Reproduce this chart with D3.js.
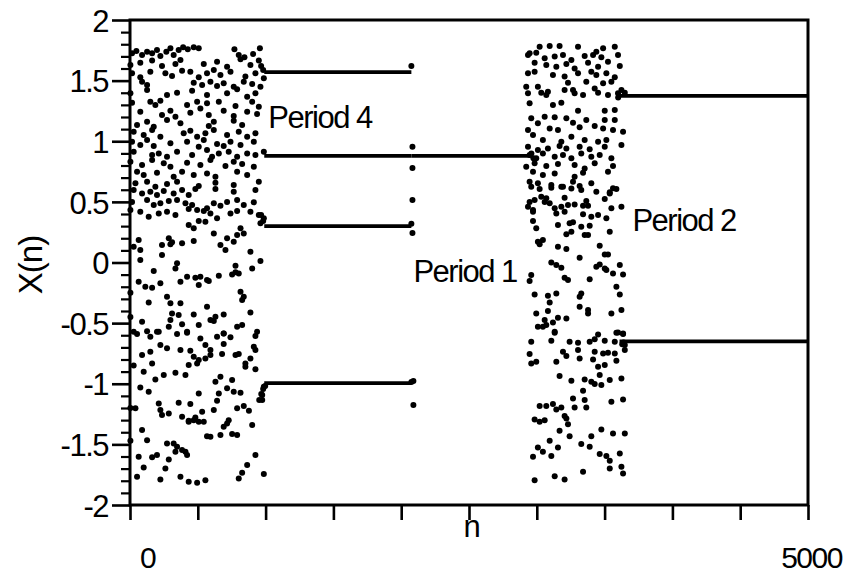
<!DOCTYPE html>
<html><head><meta charset="utf-8">
<script src="https://cdn.jsdelivr.net/npm/d3@7/dist/d3.min.js"></script>
<style>
body{margin:0;background:#fff}
svg{display:block}
text{font-family:"Liberation Sans",Arial,sans-serif;fill:#000}
</style>
</head><body>
<svg id="chart" width="848" height="577"></svg>
<script>
// ---------- data ----------
const xTicks = [0,500,1000,1500,2000,2500,3000,3500,4000,4500,5000];
const xTickLabels = ["0","","","","","","","","","","5000"];
const yMajorTicks = [-2,-1.5,-1,-0.5,0,0.5,1,1.5,2];
const yTickLabels = ["-2","-1.5","-1","-0.5","0","0.5","1","1.5","2"];
const yMinorTicks = [-1.9,-1.8,-1.7,-1.6,-1.4,-1.3,-1.2,-1.1,-0.9,-0.8,-0.7,-0.6,-0.4,-0.3,-0.2,-0.1,
  0.1,0.2,0.3,0.4,0.6,0.7,0.8,0.9,1.1,1.2,1.3,1.4,1.6,1.7,1.8,1.9];

// chaotic regime 1 (n ~ 0..990): [n, X(n)]
const chaosA = [
[15,1.725],[47,1.744],[89,1.711],[126,1.739],[163,1.725],[199,1.752],[224,1.703],[268,1.739],[298,1.766],[322,1.711],[359,1.752],[392,1.775],[426,1.758],[470,1.775],[507,1.766],[770,1.758],[802,1.711],[844,1.692],[908,1.72],[958,1.766],
[3,1.629],[76,1.648],[163,1.665],[236,1.62],[335,1.637],[372,1.67],[544,1.637],[642,1.656],[716,1.615],[815,1.676],[888,1.629],[950,1.665],
[15,1.56],[76,1.527],[150,1.574],[261,1.56],[310,1.538],[384,1.582],[445,1.574],[507,1.527],[568,1.56],[618,1.588],[667,1.546],[741,1.574],[851,1.533],[925,1.56],[987,1.519],
[89,1.491],[126,1.464],[470,1.483],[532,1.464],[593,1.491],[642,1.456],[691,1.478],[765,1.45],[839,1.491],[901,1.472],[962,1.45],
[3,1.395],[126,1.422],[273,1.381],[347,1.4],[458,1.417],[568,1.381],[716,1.395],[790,1.428],[864,1.368],[925,1.395],
[15,1.318],[150,1.326],[187,1.299],[224,1.335],[421,1.299],[495,1.326],[519,1.271],[568,1.313],[655,1.326],[778,1.29],[901,1.326],[950,1.285],
[76,1.244],[236,1.216],[298,1.252],[335,1.203],[445,1.236],[581,1.216],[691,1.252],[765,1.208],[864,1.244],[937,1.225],
[52,1.134],[126,1.161],[175,1.12],[273,1.175],[372,1.148],[581,1.126],[618,1.161],[765,1.17],[827,1.134],
[27,1.079],[101,1.051],[163,1.092],[224,1.037],[396,1.065],[445,1.087],[495,1.037],[556,1.065],[618,1.092],[716,1.051],[802,1.079],[864,1.037],[925,1.065],
[15,0.996],[76,0.969],[126,1.01],[175,0.96],[298,0.983],[421,0.996],[507,0.955],[544,1.01],[642,0.977],[691,0.96],[741,0.996],[815,0.969],[913,0.996],
[27,0.914],[163,0.886],[212,0.9],[273,0.873],[347,0.914],[458,0.886],[568,0.928],[605,0.873],[655,0.9],[728,0.914],[790,0.873],[864,0.9],[925,0.886],[987,0.914],
[3,0.831],[89,0.804],[163,0.845],[249,0.818],[298,0.79],[421,0.823],[519,0.804],[593,0.845],[704,0.796],[765,0.831],[827,0.812],[913,0.79],
[52,0.749],[101,0.721],[199,0.74],[322,0.708],[384,0.749],[470,0.721],[568,0.735],[630,0.708],[790,0.749],[864,0.721],
[40,0.653],[126,0.666],[187,0.625],[273,0.647],[347,0.666],[507,0.631],[630,0.658],[765,0.639],[950,0.666],
[27,0.598],[89,0.57],[150,0.584],[199,0.556],[249,0.59],[322,0.57],[384,0.598],[433,0.556],[482,0.606],[630,0.606],[765,0.584],[925,0.598],
[15,0.5],[126,0.515],[175,0.474],[224,0.488],[286,0.507],[347,0.515],[409,0.488],[458,0.474],[568,0.447],[618,0.488],[667,0.468],[716,0.5],[790,0.515],[839,0.474],[913,0.496],
[3,0.433],[76,0.419],[138,0.378],[212,0.405],[273,0.419],[335,0.392],[433,0.441],[495,0.433],[544,0.424],[593,0.405],[642,0.364],[741,0.405],[790,0.424],[888,0.419],[950,0.392],[987,0.364],
[433,0.309],[470,0.282],[507,0.342],[556,0.337],[815,0.282],[962,0.323],
[64,0.185],[286,0.199],[310,0.166],[618,0.24],[716,0.199],[790,0.226],[839,0.24],
[27,0.13],[76,0.103],[236,0.144],[298,0.15],[384,0.158],[470,0.177],[667,0.144],[704,0.103],[765,0.172],[888,0.089],
[76,0.02],[236,0.062],[347,-0.007],[962,0.012],
[175,-0.07],[335,-0.049],[778,-0.027],[901,-0.049],[778,-0.081],[802,-0.09],
[421,-0.117],[482,-0.125],[519,-0.117],[568,-0.145],[655,-0.109],[753,-0.098],
[64,-0.159],[113,-0.2],[163,-0.208],[224,-0.172],[372,-0.159],[507,-0.186],[581,-0.153],
[273,-0.282],[815,-0.241],[839,-0.282],[3,-0.25],
[138,-0.329],[298,-0.337],[372,-0.337],[568,-0.365],[827,-0.31],
[310,-0.42],[359,-0.433],[470,-0.428],[593,-0.475],[630,-0.447],[691,-0.428],[888,-0.412],[3,-0.45],
[89,-0.488],[298,-0.475],[384,-0.51],[507,-0.516],[618,-0.483],[790,-0.53],[827,-0.516],
[27,-0.571],[126,-0.566],[212,-0.571],[286,-0.53],[421,-0.571],[691,-0.585],[937,-0.571],
[52,-0.59],[150,-0.612],[199,-0.571],[347,-0.59],[421,-0.579],[519,-0.626],[642,-0.612],[691,-0.585],[741,-0.617],[925,-0.607],
[224,-0.681],[273,-0.708],[372,-0.722],[445,-0.728],[556,-0.681],[593,-0.722],[691,-0.673],[913,-0.695],
[89,-0.763],[150,-0.736],[470,-0.777],[507,-0.805],[556,-0.791],[593,-0.763],[679,-0.755],[778,-0.763],[802,-0.755],[851,-0.832],[888,-0.791],[925,-0.722],
[163,-0.832],[433,-0.846],[495,-0.832],[851,-0.86],[925,-0.881],[27,-0.85],
[101,-0.9],[187,-0.964],[249,-0.928],[335,-0.909],[409,-0.928],
[630,-0.983],[667,-0.942],[753,-0.97],
[76,-1.03],[138,-1.066],[507,-1.08],[655,-1.08],[716,-1.038],[765,-1.066],[815,-1.074],[987,-1.025],[975,-1.093],
[212,-1.162],[359,-1.156],[445,-1.167],[642,-1.14],[975,-1.135],[3,-1.2],
[40,-1.203],[224,-1.217],[236,-1.258],[286,-1.245],[384,-1.272],[433,-1.305],[482,-1.278],[532,-1.231],[618,-1.217],[790,-1.203],[839,-1.184],[877,-1.223],
[433,-1.313],[470,-1.3],[507,-1.313],[544,-1.313],[691,-1.355],[716,-1.327],[728,-1.3],[901,-1.341],
[89,-1.382],[568,-1.432],[593,-1.437],[667,-1.423],[753,-1.415],[790,-1.423],[3,-1.47],
[126,-1.465],[273,-1.492],[322,-1.492],
[347,-1.52],[384,-1.547],[421,-1.588],[409,-1.561],[335,-1.561],
[64,-1.602],[163,-1.607],[199,-1.588],[286,-1.624],[925,-1.588],
[101,-1.69],[261,-1.698],[864,-1.671],
[52,-1.767],[224,-1.789],[372,-1.767],[433,-1.808],[495,-1.817],[556,-1.795],[802,-1.781],[827,-1.734],[987,-1.745]
];

// chaotic regime 2 (n ~ 2930..3650): [n, X(n)]
const chaosB = [
[2947,1.725],[3021,1.78],[3095,1.786],[3168,1.786],[3304,1.78],[3439,1.739],[3489,1.766],[3575,1.78],
[2935,1.711],[2996,1.73],[3058,1.684],[3132,1.698],[3193,1.711],[3255,1.67],[3353,1.703],[3415,1.711],[3476,1.692],[3599,1.711],
[2984,1.648],[3070,1.629],[3144,1.615],[3218,1.637],[3279,1.601],[3378,1.648],[3452,1.615],[3525,1.656],[3612,1.62],
[2935,1.56],[2984,1.574],[3119,1.546],[3205,1.533],[3304,1.56],[3402,1.574],[3439,1.546],[3513,1.56],[3575,1.527],
[2922,1.45],[3008,1.45],[3082,1.409],[3230,1.483],[3267,1.422],[3365,1.491],[3427,1.436],[3489,1.478],[3550,1.491],[3624,1.422],
[2935,1.395],[3033,1.4],[3070,1.381],[3205,1.422],[3279,1.395],[3341,1.381],[3452,1.4],[3525,1.381],[3599,1.395],[3649,1.4],
[2947,1.313],[3119,1.299],[3181,1.318],
[2959,1.189],[3058,1.203],[3132,1.197],[3218,1.189],[3304,1.252],[3365,1.175],[3501,1.252],[3575,1.258],[3501,1.175],[3575,1.175],
[2935,1.092],[3008,1.148],[3095,1.106],[3156,1.092],[3267,1.153],[3316,1.115],[3427,1.126],[3489,1.106],[3562,1.092],[3636,1.079],
[2972,1.051],[3045,1.01],[3181,0.996],[3255,1.037],[3353,1.01],[3452,0.996],[3513,1.01],
[2935,0.955],[3008,0.928],[3082,0.941],[3168,0.96],[3218,0.941],[3316,0.955],[3390,0.933],[3501,0.955],[3624,0.969],
[2947,0.886],[2996,0.859],[3045,0.9],[3132,0.873],[3193,0.886],[3255,0.859],[3328,0.9],[3402,0.873],[3464,0.886],[3550,0.859],
[2922,0.79],[2984,0.818],[3070,0.796],[3156,0.812],[3279,0.804],[3353,0.776],[3427,0.818],[3562,0.796],
[2972,0.749],[3045,0.721],[3132,0.735],[3279,0.708],[3341,0.74],[3525,0.749],
[2947,0.666],[3008,0.653],[3107,0.639],[3193,0.625],[3267,0.666],[3316,0.631],[3402,0.653],[3562,0.612],
[2959,0.625],[3021,0.606],[3107,0.617],[3181,0.625],[3255,0.611],[3328,0.598],[3439,0.584],[3538,0.579],[3587,0.606],
[2947,0.5],[2984,0.515],[3033,0.543],[3070,0.529],[3095,0.488],[3205,0.534],[3365,0.507],[3501,0.523],[3538,0.57],
[2935,0.46],[2972,0.433],[3058,0.5],[3132,0.447],[3181,0.46],[3230,0.474],[3279,0.479],[3341,0.468],[3378,0.468],[3550,0.447],[3624,0.46],
[2972,0.419],[3144,0.405],[3205,0.419],[3341,0.397],[3402,0.378],[3452,0.392],[3513,0.364],
[2972,0.342],[3156,0.309],[3242,0.323],[3267,0.331],[3328,0.295],[3390,0.304],
[2996,0.282],[3218,0.232],[3255,0.254],[3353,0.226],[3378,0.226],[3538,0.254],
[3008,0.172],[3045,0.185],[3021,0.15],
[3156,0.13],[3218,0.111],[3464,0.139],
[3316,0.04],[3501,0.067],[3525,0.067],
[3107,0.001],[3144,-0.021],[3181,-0.043],[3439,-0.035],[3464,-0.016],[3501,-0.049],[3612,-0.021],
[2959,-0.104],[3205,-0.125],[3230,-0.145],[3513,-0.062],[3562,-0.09],[3636,-0.098],
[2947,-0.153],[3390,-0.139],[3587,-0.2],
[2984,-0.263],[3082,-0.274],[3144,-0.255],[3316,-0.282],[3328,-0.255],[3612,-0.263],
[3095,-0.329],[3316,-0.365],
[2996,-0.42],[3082,-0.4],[3378,-0.392],[3378,-0.42],[3550,-0.42],[3624,-0.392],
[3058,-0.475],[3119,-0.494],[3156,-0.455],[3218,-0.461],
[3008,-0.53],[3045,-0.53],[3070,-0.516],
[3132,-0.571],[3452,-0.593],[3599,-0.577],[3636,-0.585],
[3132,-0.579],[3587,-0.579],[3636,-0.59],
[2959,-0.653],[3107,-0.645],[3242,-0.653],[3304,-0.662],[3390,-0.653],[3427,-0.634],[3501,-0.645],[3575,-0.653],[3649,-0.681],
[2947,-0.755],[3193,-0.736],[3218,-0.771],[3304,-0.722],[3316,-0.791],[3427,-0.736],[3489,-0.75],[3525,-0.744],[3575,-0.75],[3649,-0.722],
[2959,-0.832],[2996,-0.818],[3144,-0.818],[3415,-0.799],[3452,-0.86],[3501,-0.846],[3587,-0.81],
[3168,-0.937],[3255,-0.975],[3353,-0.964],[3402,-0.983],[3427,-1.003],[3476,-1.011],[3538,-0.97],[3624,-0.956],[3464,-0.928],
[3341,-1.057],
[3267,-1.121],[3353,-1.135],[3550,-1.148],[3636,-1.129],
[3021,-1.184],[3070,-1.184],[3119,-1.168],[3144,-1.212],[3181,-1.195],[3279,-1.195],[3365,-1.195],
[2984,-1.294],[3021,-1.313],[3058,-1.3],[3205,-1.267],[3218,-1.286],[3230,-1.333],
[3168,-1.388],[3242,-1.432],[3402,-1.432],[3476,-1.377],[3562,-1.41],[3649,-1.41],
[3095,-1.47],[3008,-1.525],[3156,-1.525],[3328,-1.497],[3390,-1.52],[3045,-1.561],
[2972,-1.602],[3107,-1.596],[3464,-1.58],[3513,-1.596],[3612,-1.575],[3538,-1.635],
[3538,-1.698],[3624,-1.685],
[2984,-1.795],[3132,-1.762],[3205,-1.789],[3341,-1.726],[3636,-1.74]
];

// transient iterates at the regime changes
const transients = [[953,-1.134],[968,-1.085],[982,-1.043],[997,-1.019],[967,0.392],[982,0.342],[967,1.62],[982,1.588],
  [2075,1.62],[2075,0.32],[2075,-0.985],[2083,0.955],[2083,0.78],[2083,0.515],[2083,0.243],[2090,-0.977],[2090,-1.175],
  [2960,0.9],[2975,0.86],[3600,1.36],[3640,-0.66],[3630,-0.675]];

// periodic orbits: levels and n-ranges
const period4Levels = [1.57, 0.88, 0.30, -0.995];
const period4Range = [990, 2075];
const period1Levels = [0.88];
const period1Range = [2075, 2965];
const period2Levels = [1.375, -0.65];
const period2Range = [3610, 5000];

const regimeLabels = [
  {text:"Period 4", n:1020, x:1.11},
  {text:"Period 1", n:2090, x:-0.16},
  {text:"Period 2", n:3705, x:0.26}
];

// ---------- drawing ----------
const svg = d3.select("#chart");
const x = d3.scaleLinear().domain([0,5000]).range([130,808]);
const y = d3.scaleLinear().domain([-2,2]).range([505,20]);
const FONT = 31;

// periodic lines
const segs = [];
period4Levels.forEach(v=>segs.push({r:period4Range,v}));
period1Levels.forEach(v=>segs.push({r:period1Range,v}));
period2Levels.forEach(v=>segs.push({r:period2Range,v}));
svg.append("g").selectAll("line").data(segs).join("line")
  .attr("x1",d=>x(d.r[0])).attr("x2",d=>x(d.r[1]))
  .attr("y1",d=>y(d.v)).attr("y2",d=>y(d.v))
  .attr("stroke","#000").attr("stroke-width",3.8);

// chaotic points
svg.append("g").selectAll("circle").data(chaosA.concat(chaosB, transients)).join("circle")
  .attr("cx",d=>x(d[0])).attr("cy",d=>y(d[1])).attr("r",3).attr("fill","#000");

// frame
svg.append("rect").attr("x",x(0)).attr("y",y(2)).attr("width",x(5000)-x(0)).attr("height",y(-2)-y(2))
  .attr("fill","none").attr("stroke","#000").attr("stroke-width",3);

// x axis
const xAxis = d3.axisBottom(x).tickValues(xTicks).tickSize(15)
  .tickFormat((d,i)=>xTickLabels[i]);
const gx = svg.append("g").attr("transform",`translate(0,${y(-2)})`).call(xAxis);
gx.select(".domain").remove();
gx.selectAll(".tick line").attr("stroke","#000").attr("stroke-width",2.6);
gx.selectAll(".tick text").attr("font-size",30).attr("letter-spacing","-1.5")
  .attr("y",63).attr("dy",0).attr("dx",(d)=> d===0 ? 17 : 3)
  .style("font-family",'"Liberation Sans",Arial,sans-serif');

// y axis major
const yAxis = d3.axisLeft(y).tickValues(yMajorTicks).tickSize(18).tickPadding(4)
  .tickFormat((d,i)=>yTickLabels[i]);
const gy = svg.append("g").attr("transform",`translate(${x(0)},0)`).call(yAxis);
gy.select(".domain").remove();
gy.selectAll(".tick line").attr("stroke","#000").attr("stroke-width",2.6);
gy.selectAll(".tick text").attr("font-size",FONT).attr("letter-spacing","-1.5").attr("dy","0.36em")
  .style("font-family",'"Liberation Sans",Arial,sans-serif');

// y axis minor
const gym = svg.append("g").attr("transform",`translate(${x(0)},0)`)
  .call(d3.axisLeft(y).tickValues(yMinorTicks).tickSize(9).tickFormat(""));
gym.select(".domain").remove();
gym.selectAll(".tick line").attr("stroke","#000").attr("stroke-width",2.2);

// regime labels
svg.append("g").selectAll("text").data(regimeLabels).join("text")
  .attr("x",d=>x(d.n)).attr("y",d=>y(d.x))
  .attr("font-size",FONT).attr("letter-spacing","-1.5")
  .text(d=>d.text);

// axis titles
svg.append("text").attr("x",472).attr("y",537).attr("text-anchor","middle")
  .attr("font-size",FONT).text("n");
svg.append("text").attr("transform","translate(42,265) rotate(-90)").attr("text-anchor","middle")
  .attr("font-size",33).attr("letter-spacing","-1").text("X(n)");
</script>
</body></html>
